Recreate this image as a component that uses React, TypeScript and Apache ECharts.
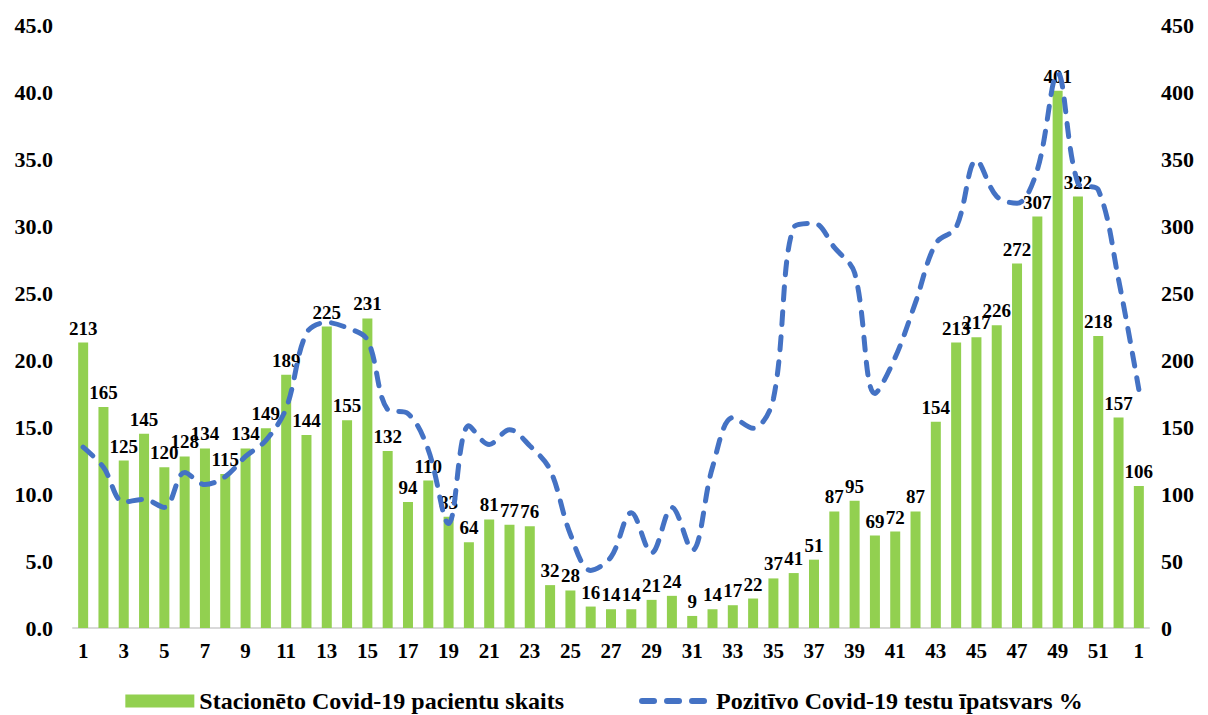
import React, { useEffect, useRef } from "react";
import * as echarts from "echarts";

const weeks: string[] = [
  "1","2","3","4","5","6","7","8","9","10","11","12","13","14","15","16","17","18","19","20",
  "21","22","23","24","25","26","27","28","29","30","31","32","33","34","35","36","37","38","39","40",
  "41","42","43","44","45","46","47","48","49","50","51","52","1"
];

const hospitalized: number[] = [
  213,165,125,145,120,128,134,115,134,149,
  189,144,225,155,231,132,94,110,83,64,
  81,77,76,32,28,16,14,14,21,24,
  9,14,17,22,37,41,51,87,95,69,
  72,87,154,213,217,226,272,307,401,322,
  218,157,106
];

const positiveShare: number[] = [
  13.5,12.0,9.4,9.6,9.0,11.6,10.7,11.3,12.8,14.0,
  16.4,22.0,22.8,22.4,21.5,16.3,16.0,13.3,7.8,15.1,
  13.7,14.8,13.6,11.8,7.0,4.3,5.3,8.6,5.6,9.0,
  5.8,12.0,15.7,14.9,17.1,29.9,30.2,28.4,26.5,17.5,
  20.2,24.3,28.7,29.9,34.9,32.2,31.7,34.2,41.4,33.2,
  32.7,26.0,17.8
];

const seriesNames = ["Stacionēto Covid-19 pacientu skaits", "Pozitīvo Covid-19 testu īpatsvars %"];

const FONT = "'Liberation Serif', 'Times New Roman', serif";

export default function App() {
  const ref = useRef<HTMLDivElement>(null);
  useEffect(() => {
    if (!ref.current) return;
    const chart = echarts.init(ref.current, undefined, { renderer: "svg" });
    chart.setOption({
      animation: false,
      backgroundColor: "#ffffff",
      textStyle: { fontFamily: FONT },
      grid: { left: 73, right: 59, top: 25, bottom: 87, containLabel: false },
      legend: {
        top: 689,
        left: "center",
        padding: 0,
        itemGap: 75,
        itemWidth: 69,
        itemHeight: 13,
        itemTextGap: 8,
        textStyle: { fontFamily: FONT, fontWeight: "bold", fontSize: 24, lineHeight: 24, color: "#000" },
        data: [
          { name: seriesNames[0], icon: "rect" },
          {
            name: seriesNames[1],
            itemStyle: { opacity: 0 },
            lineStyle: { width: 6, type: [12, 13], cap: "round", color: "#4472C4" },
          },
        ],
      },
      xAxis: {
        type: "category",
        data: weeks,
        axisLine: { show: true, lineStyle: { color: "#D9D9D9", width: 2 } },
        axisTick: { show: false },
        axisLabel: {
          interval: 1,
          margin: 12,
          fontFamily: FONT,
          fontWeight: "bold",
          fontSize: 21,
          color: "#000",
        },
      },
      yAxis: [
        {
          type: "value",
          min: 0,
          max: 45,
          interval: 5,
          position: "left",
          splitLine: { show: false },
          axisLine: { show: false },
          axisTick: { show: false },
          axisLabel: {
            margin: 20,
            fontFamily: FONT,
            fontWeight: "bold",
            fontSize: 22,
            color: "#000",
            formatter: (v: number) => v.toFixed(1),
          },
        },
        {
          type: "value",
          min: 0,
          max: 450,
          interval: 50,
          position: "right",
          splitLine: { show: false },
          axisLine: { show: false },
          axisTick: { show: false },
          axisLabel: {
            margin: 12,
            fontFamily: FONT,
            fontWeight: "bold",
            fontSize: 22,
            color: "#000",
          },
        },
      ],
      series: [
        {
          name: seriesNames[0],
          type: "bar",
          yAxisIndex: 1,
          data: hospitalized,
          barWidth: 10,
          itemStyle: { color: "#92D050" },
          z: 1,
          label: {
            show: true,
            position: "top",
            distance: 5,
            fontFamily: FONT,
            fontWeight: "bold",
            fontSize: 19,
            color: "#000",
          },
        },
        {
          name: seriesNames[1],
          type: "line",
          yAxisIndex: 0,
          data: positiveShare,
          smooth: 0.35,
          symbol: "none",
          z: 3,
          itemStyle: { color: "#4472C4" },
          lineStyle: { color: "#4472C4", width: 5, type: [13, 12], cap: "round" },
        },
      ],
    });
    return () => chart.dispose();
  }, []);
  return (
    <div
      ref={ref}
      style={{ position: "fixed", left: 0, top: 0, width: 1208, height: 715, background: "#fff" }}
    />
  );
}
